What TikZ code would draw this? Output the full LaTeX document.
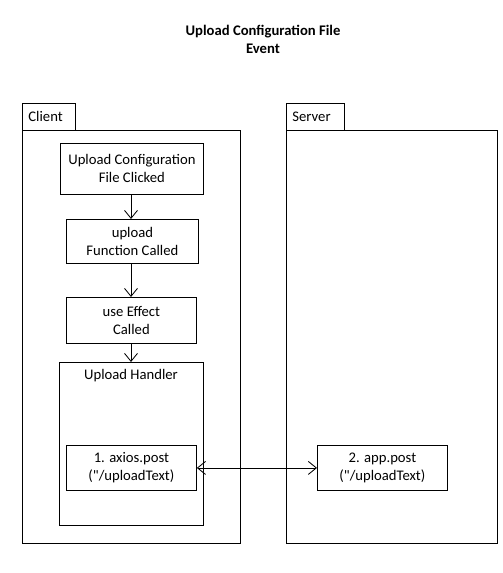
\documentclass[tikz,border=0pt]{standalone}
\usepackage{fontspec}
\setmainfont{Carlito}
\usetikzlibrary{arrows.meta}
\begin{document}
\begin{tikzpicture}[x=1pt,y=-1pt,
  font=\fontsize{14.67pt}{18pt}\selectfont,
  line width=0.85pt,
  box/.style={draw=black, inner sep=0pt, align=center, anchor=north west},
  flow/.style={-{Straight Barb[length=8pt,width=13pt]}},
  both/.style={{Straight Barb[length=8pt,width=13pt]}-{Straight Barb[length=8pt,width=13pt]}}]
\useasboundingbox (0,0) rectangle (503,573);
\fill[white] (0,0) rectangle (503,573);
% title
\node[font=\fontsize{14.67pt}{18pt}\selectfont\bfseries, align=center] (title) at (263,39) {Upload Configuration File\\Event};
% Client
\node[box, minimum width=53pt, minimum height=27pt] (ctab) at (22,103) {};
\node[anchor=west, inner sep=0pt] (ctabt) at (28,116.5) {Client};
\node[box, minimum width=218pt, minimum height=413pt] (client) at (22,130) {};
% Server
\node[box, minimum width=58pt, minimum height=27pt] (stab) at (286,103) {};
\node[anchor=west, inner sep=0pt] (stabt) at (292,116.5) {Server};
\node[box, minimum width=211pt, minimum height=413pt] (server) at (286,130) {};
% client boxes
\node[box, minimum width=143pt, minimum height=51pt] (b1) at (60,143) {Upload Configuration\\File Clicked};
\node[box, minimum width=132pt, minimum height=44pt] (b2) at (66,219) {upload\\Function Called};
\node[box, minimum width=130pt, minimum height=46pt] (b3) at (66,297) {use Effect\\Called};
\node[box, minimum width=144pt, minimum height=163pt] (uh) at (59,362) {};
\node[inner sep=0pt] (uht) at (131,376) {Upload Handler};
\node[box, minimum width=130pt, minimum height=45pt] (ax) at (66,445) {1. axios.post\\(\textquotedbl/uploadText)};
\node[box, minimum width=130pt, minimum height=45pt] (ap) at (317,445) {2. app.post\\(\textquotedbl/uploadText)};
% connectors
\draw[flow] (b1.south -| 131,0) -- (b2.north -| 131,0);
\draw[flow] (b2.south -| 131,0) -- (b3.north -| 131,0);
\draw[flow] (b3.south -| 131,0) -- (uh.north -| 131,0);
\draw[both] (ax.east) -- (ap.west);
\end{tikzpicture}
\end{document}
